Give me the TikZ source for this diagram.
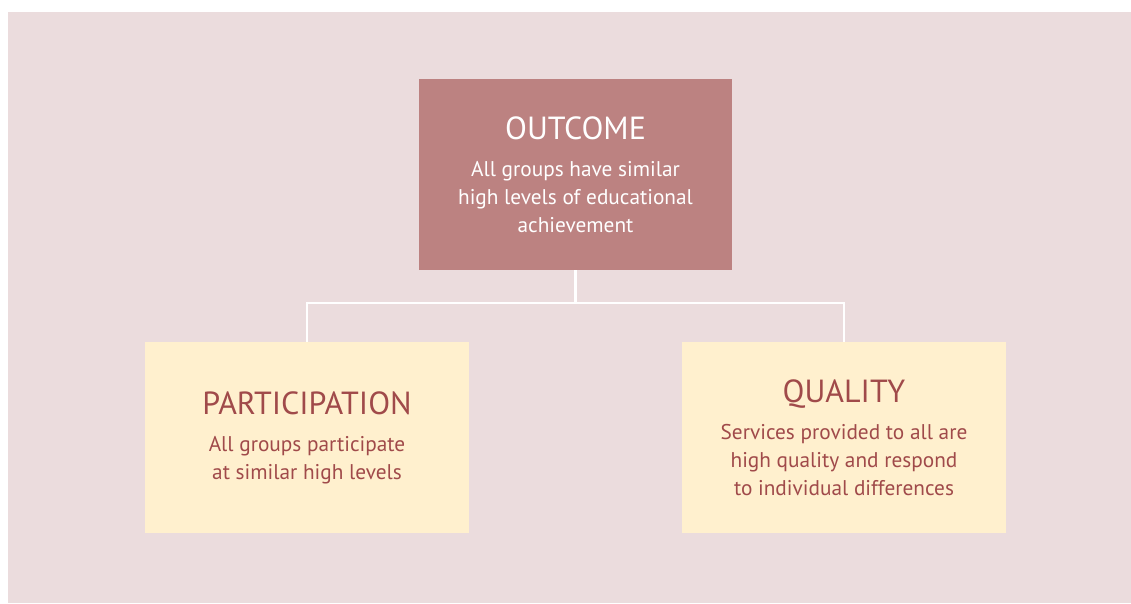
\documentclass[tikz,border=0pt]{standalone}
\usepackage{fontspec}
\setmainfont{PT Sans}
\usetikzlibrary{positioning}
\definecolor{pagepink}{RGB}{235,220,221}
\definecolor{rosebox}{RGB}{188,130,129}
\definecolor{creambox}{RGB}{255,240,206}
\definecolor{wine}{RGB}{160,74,74}
\newcommand*\headline[1]{{\fontsize{32}{38}\selectfont #1}\\[9pt]}

\begin{document}
\begin{tikzpicture}[x=1pt,y=-1pt,semithick,inner sep=0pt,
		font=\fontsize{21.3}{28}\selectfont]
		\tikzstyle{box}=[rectangle,minimum width=324pt,minimum height=191pt,align=center]
		\tikzstyle{top box}=[box,fill=rosebox,text=white,minimum width=313pt]
		\tikzstyle{low box}=[box,fill=creambox,text=wine]
		\tikzstyle{link}=[draw=white,line width=2.2pt]

		\useasboundingbox (0,0) rectangle (1131,603);
		\fill[pagepink] (8,12) rectangle (1131,603);

		\node[top box]	(outcome)	at (575.5,174.5)	{\headline{OUTCOME}All groups have similar\\high levels of educational\\achievement};
		\node[low box]	(part)		at (307,437.5)		{\headline{PARTICIPATION}All groups participate\\at similar high levels};
		\node[low box]	(quality)	at (844,437.5)		{\headline{QUALITY}Services provided to all are\\high quality and respond\\to individual differences};

		\coordinate (fork) at (575.5,303);
		\path[link] (outcome.south) -- (fork) -| (part.north)
					(fork) -| (quality.north);
		\end{tikzpicture}
\end{document}
